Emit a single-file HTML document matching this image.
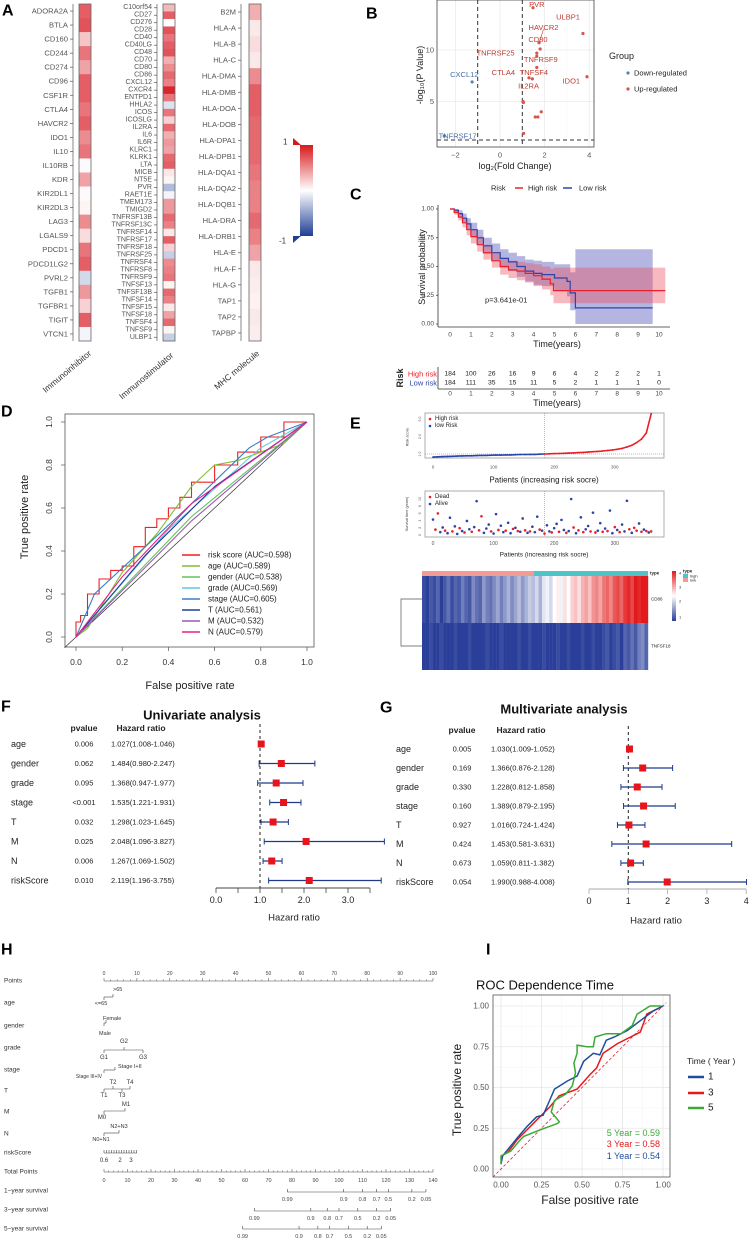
<!DOCTYPE html>
<html><head><meta charset="utf-8"><title>Figure</title>
<style>
html,body{margin:0;padding:0;background:#fff;}
svg{display:block;font-family:"Liberation Sans",Arial,sans-serif;}
text{dominant-baseline:central;}
</style></head>
<body>
<svg id="fig" width="749" height="1241" viewBox="0 0 749 1241" xmlns="http://www.w3.org/2000/svg">
<defs>
<linearGradient id="gradA" x1="0" y1="0" x2="0" y2="1">
<stop offset="0" stop-color="#d7191c"/><stop offset="0.5" stop-color="#ffffff"/><stop offset="1" stop-color="#1f3f95"/>
</linearGradient>
<linearGradient id="gradE" x1="0" y1="0" x2="0" y2="1">
<stop offset="0" stop-color="#e31a1c"/><stop offset="0.5" stop-color="#ffffff"/><stop offset="1" stop-color="#2a3f9a"/>
</linearGradient>
</defs>
</svg>
<script>
// ---------- DATA ----------
// Panel A
const aCol1Names=['ADORA2A','BTLA','CD160','CD244','CD274','CD96','CSF1R','CTLA4','HAVCR2','IDO1','IL10','IL10RB','KDR','KIR2DL1','KIR2DL3','LAG3','LGALS9','PDCD1','PDCD1LG2','PVRL2','TGFB1','TGFBR1','TIGIT','VTCN1'];
const aCol1Vals=[0.7,0.75,0.25,0.6,0.4,0.7,0.7,0.6,0.7,0.5,0.6,-0.02,0.4,0.02,0.05,0.5,0.15,0.6,0.7,-0.2,0.45,0.2,0.7,-0.05];
const aCol2Names=['C10orf54','CD27','CD276','CD28','CD40','CD40LG','CD48','CD70','CD80','CD86','CXCL12','CXCR4','ENTPD1','HHLA2','ICOS','ICOSLG','IL2RA','IL6','IL6R','KLRC1','KLRK1','LTA','MICB','NT5E','PVR','RAET1E','TMEM173','TMIGD2','TNFRSF13B','TNFRSF13C','TNFRSF14','TNFRSF17','TNFRSF18','TNFRSF25','TNFRSF4','TNFRSF8','TNFRSF9','TNFSF13','TNFSF13B','TNFSF14','TNFSF15','TNFSF18','TNFSF4','TNFSF9','ULBP1'];
const aCol2Vals=[0.3,0.7,0.0,0.75,0.6,0.7,0.75,0.35,0.5,0.65,0.55,0.95,0.6,-0.15,0.6,0.2,0.65,0.35,0.45,0.4,0.65,0.7,0.1,0.05,-0.35,-0.05,0.45,0.45,0.65,0.55,0.1,0.7,0.2,-0.25,0.5,0.55,0.6,0.05,0.65,0.55,0.1,0.4,0.65,0.05,-0.25];
const aCol3Names=['B2M','HLA-A','HLA-B','HLA-C','HLA-DMA','HLA-DMB','HLA-DOA','HLA-DOB','HLA-DPA1','HLA-DPB1','HLA-DQA1','HLA-DQA2','HLA-DQB1','HLA-DRA','HLA-DRB1','HLA-E','HLA-F','HLA-G','TAP1','TAP2','TAPBP'];
const aCol3Vals=[0.35,0.1,0.15,0.1,0.5,0.7,0.7,0.65,0.65,0.65,0.6,0.55,0.55,0.65,0.55,0.4,0.1,0.08,0.06,0.1,0.08];
// Panel B
const bFC=[1.48,3.72,1.75,1.8,1.65,1.65,1.65,1.3,1.45,3.9,1.03,1.05,1.58,1.7,1.85,1.06,-1.25,-2.5];
const bLogP=[14.1,11.6,10.7,10.1,9.7,9.4,8.3,7.3,7.2,7.4,5.0,4.9,3.5,3.5,4.0,1.9,6.9,1.65];
const bUp=[1,1,1,1,1,1,1,1,1,1,1,1,1,1,1,1,0,0];
const bLabels=['PVR','ULBP1','HAVCR2','CD80','TNFRSF25','TNFRSF9','TNFSF4','CTLA4','IL2RA','IDO1','CXCL12','TNFRSF17'];
const bLabelFC=[1.65,3.05,1.95,1.7,-0.2,1.83,1.52,0.15,1.28,3.2,-1.6,-1.9];
const bLabelP=[14.4,13.2,12.2,11.0,9.7,9.1,7.8,7.8,6.5,7.0,7.6,1.65];
// Panel C
const hrT=[0,0.2,0.4,0.6,0.8,1.0,1.3,1.6,2.0,2.4,2.8,3.2,3.6,4.0,4.4,4.8,4.95,10.3];
const hrS=[1,0.97,0.93,0.88,0.82,0.76,0.69,0.62,0.55,0.5,0.47,0.46,0.44,0.42,0.39,0.35,0.29,0.29];
const hrLo=[1,0.95,0.9,0.84,0.77,0.7,0.63,0.56,0.49,0.43,0.4,0.38,0.36,0.33,0.3,0.25,0.18,0.18];
const hrHi=[1,0.99,0.96,0.92,0.87,0.82,0.76,0.69,0.62,0.57,0.55,0.54,0.53,0.52,0.5,0.48,0.49,0.49];
const lrT=[0,0.2,0.4,0.6,0.8,1.0,1.3,1.6,2.0,2.4,2.8,3.2,3.6,4.0,4.4,5.0,5.6,5.75,6.0,9.7];
const lrS=[1,0.99,0.96,0.92,0.87,0.82,0.75,0.68,0.62,0.57,0.54,0.5,0.46,0.44,0.43,0.4,0.37,0.27,0.14,0.14];
const lrLo=[1,0.97,0.93,0.88,0.82,0.76,0.69,0.61,0.55,0.49,0.46,0.41,0.37,0.34,0.33,0.29,0.24,0.12,0.0,0.0];
const lrHi=[1,1,0.99,0.96,0.92,0.88,0.82,0.75,0.70,0.65,0.62,0.59,0.56,0.55,0.54,0.52,0.52,0.45,0.65,0.65];
const riskHigh=[184,100,26,16,9,6,4,2,2,2,1];
const riskLow=[184,111,35,15,11,5,2,1,1,1,0];
const cYTicks=[0,0.25,0.5,0.75,1];
// Panel D
const dNames=['risk score','age','gender','grade','stage','T','M','N'];
const dAUC=['0.598','0.589','0.538','0.569','0.605','0.561','0.532','0.579'];
const dColors=['#ee2024','#7cbf3a','#63c25e','#5fcbdc','#3b7fc4','#1f3b9a','#9b59b6','#e6208a'];
const dFpr=[
 [0,0.02,0.05,0.1,0.15,0.2,0.25,0.3,0.35,0.4,0.45,0.5,0.6,0.7,0.8,0.9,1],
 [0,0.05,0.2,0.35,0.5,0.6,0.7,0.9,1],
 [0,0.5,1],
 [0,0.4,0.8,1],
 [0,0.08,0.3,0.5,0.75,0.83,1],
 [0,0.3,0.6,1],
 [0,0.5,1],
 [0,0.2,0.5,1]];
const dTpr=[
 [0,0.07,0.1,0.2,0.27,0.31,0.33,0.42,0.51,0.55,0.6,0.65,0.72,0.8,0.86,0.93,1],
 [0,0.04,0.3,0.48,0.7,0.8,0.82,0.9,1],
 [0,0.56,1],
 [0,0.5,0.88,1],
 [0,0.2,0.42,0.62,0.88,0.93,1],
 [0,0.38,0.7,1],
 [0,0.54,1],
 [0,0.28,0.62,1]];
const dTicks=[0,0.2,0.4,0.6,0.8,1.0];
// Panel E
const eRisk=[0.82,0.84,0.85,0.86,0.87,0.88,0.89,0.9,0.9,0.91,0.92,0.92,0.93,0.94,0.94,0.95,0.95,0.96,0.97,0.97,0.98,0.98,0.99,1.0,1.01,1.02,1.03,1.04,1.05,1.06,1.08,1.09,1.11,1.13,1.15,1.17,1.2,1.23,1.27,1.32,1.4,1.5,1.65,1.85,2.2,3.3];
const eTimes=[4.3,1.5,6,0.8,2.1,1.2,0.5,4.8,1.0,2.4,0.3,1.9,1.1,0.7,3.9,1.6,0.9,2.2,9.4,1.3,5.2,0.6,1.8,2.9,1.0,0.4,5.8,1.4,2.6,0.8,1.2,3.4,0.5,1.7,2.0,1.1,0.9,4.6,1.3,0.6,1.0,2.3,0.8,5.1,1.5,1.2,0.4,2.7,1.0,0.7,1.9,3.1,0.9,4.2,1.4,0.6,1.1,10.0,2.1,0.5,1.3,4.9,0.8,1.6,2.5,1.0,6.2,0.7,1.2,3.3,0.9,1.8,1.1,6.8,0.5,2.2,1.4,0.8,2.9,1.0,9.5,1.6,0.6,2.0,1.2,3.2,0.9,1.5,1.1,0.7,1.0];
const eDead=[0,1,1,0,0,1,0,0,1,0,0,1,0,1,0,0,1,0,0,1,1,0,0,0,1,0,0,1,0,0,1,0,0,1,0,1,0,0,1,0,1,0,0,0,1,0,1,0,0,1,0,0,1,0,0,1,0,0,1,0,1,0,1,0,0,1,0,1,0,0,1,0,1,0,0,1,0,1,0,0,0,1,0,1,1,0,1,0,1,0,1];
const eCD86=[1.1,1.0,1.2,1.1,1.3,1.0,1.2,1.4,1.1,1.3,1.2,1.5,1.3,1.2,1.6,1.4,1.3,1.7,1.5,1.4,1.6,1.8,1.5,1.7,1.9,1.6,1.8,2.0,1.7,1.9,2.1,2.0,2.2,1.9,2.3,2.4,2.2,2.5,2.6,2.4,2.7,2.5,2.8,2.9,2.7,3.0,3.1,2.9,3.2,3.3,3.1,3.4,3.5,3.3,3.6,3.7,3.5,3.8,3.9,3.7,4.0,3.9,4.0,4.1];
const eTNFSF18=[1.0,1.0,1.1,1.0,1.0,1.1,1.0,1.0,1.0,1.1,1.0,1.0,1.0,1.1,1.0,1.0,1.0,1.0,1.1,1.0,1.0,1.0,1.1,1.0,1.0,1.0,1.0,1.1,1.0,1.0,1.1,1.0,1.0,1.0,1.1,1.0,1.0,1.0,1.1,1.0,1.0,1.1,1.0,1.0,1.0,1.1,1.0,1.0,1.1,1.0,1.0,1.1,1.2,1.0,1.1,1.2,1.0,1.3,1.2,1.4,1.2,1.5,1.6,1.3];
// Panel F / G
const fgNames=['age','gender','grade','stage','T','M','N','riskScore'];
const fP=['0.006','0.062','0.095','<0.001','0.032','0.025','0.006','0.010'];
const fHR=[1.027,1.484,1.368,1.535,1.298,2.048,1.267,2.119];
const fLo=[1.008,0.980,0.947,1.221,1.023,1.096,1.069,1.196];
const fHi=[1.046,2.247,1.977,1.931,1.645,3.827,1.502,3.755];
const gP=['0.005','0.169','0.330','0.160','0.927','0.424','0.673','0.054'];
const gHR=[1.030,1.366,1.228,1.389,1.016,1.453,1.059,1.990];
const gLo=[1.009,0.876,0.812,0.879,0.724,0.581,0.811,0.988];
const gHi=[1.052,2.128,1.858,2.195,1.424,3.631,1.382,4.008];
// Panel H
const hSurvLabels=['0.99','0.9','0.8','0.7','0.5','0.2','0.05'];
const hSurv1=[78,102,110,116,121,131,137];
const hSurv3=[64,88,95,100,108,116,122];
const hSurv5=[59,83,91,96,104,112,118];
// Panel I
const iG_f=[0,0,0.06,0.12,0.14,0.24,0.35,0.36,0.31,0.33,0.40,0.44,0.46,0.45,0.47,0.47,0.53,0.57,0.58,0.65,0.74,0.81,0.84,0.92,0.99];
const iG_t=[0.03,0.08,0.11,0.18,0.2,0.24,0.28,0.29,0.35,0.42,0.46,0.51,0.59,0.65,0.71,0.76,0.75,0.75,0.81,0.83,0.83,0.88,0.95,1.0,1.0];
const iB_f=[0,0.01,0.1,0.16,0.22,0.26,0.3,0.33,0.41,0.47,0.51,0.57,0.61,0.65,0.7,0.78,0.86,0.94,1];
const iB_t=[0.03,0.08,0.19,0.26,0.32,0.33,0.42,0.49,0.54,0.57,0.66,0.71,0.70,0.79,0.81,0.85,0.91,0.97,1.0];
const iR_f=[0,0.04,0.1,0.18,0.24,0.3,0.36,0.47,0.55,0.59,0.63,0.72,0.8,0.86,0.9,0.96,1];
const iR_t=[0.08,0.10,0.18,0.26,0.32,0.38,0.45,0.49,0.58,0.62,0.71,0.77,0.81,0.84,0.95,0.98,1];
const iTicks=[0,0.25,0.5,0.75,1];
const iAUC=['0.54','0.58','0.59'];

// ---------- HELPERS ----------
const NS='http://www.w3.org/2000/svg';
const svg=document.getElementById('fig');
function mk(tag,a,p){const e=document.createElementNS(NS,tag);for(const k in a)e.setAttribute(k,a[k]);(p||svg).appendChild(e);return e;}
function tx(x,y,s,fs,name,o){o=o||{};
const e=mk('text',{x:x,y:y,'font-size':fs,'text-anchor':o.a||'start',fill:o.c||'#222','font-weight':o.w||'normal'});
if(o.r!=null)e.setAttribute('transform','rotate('+o.r+' '+x+' '+y+')');
if(o.st)e.setAttribute('font-style',o.st);
e.textContent=s;


return e;}
function ln(x1,y1,x2,y2,c,w,name,dash){
const e=mk('line',{x1:x1,y1:y1,x2:x2,y2:y2,stroke:c,'stroke-width':w});
if(dash)e.setAttribute('stroke-dasharray',dash);


return e;}
function poly(pts,c,w,name){
const e=mk('polyline',{points:pts.map(p=>p[0].toFixed(1)+','+p[1].toFixed(1)).join(' '),fill:'none',stroke:c,'stroke-width':w});


return e;}
function rc(x,y,w,h,f,name,s){
const e=mk('rect',{x:x,y:y,width:w,height:h,fill:f});
if(s){e.setAttribute('stroke',s);e.setAttribute('stroke-width',0.8);}


return e;}
function heatA(v){const t=Math.min(1,Math.abs(v));
if(v>=0)return 'rgb('+Math.round(255-40*t)+','+Math.round(255-230*t)+','+Math.round(255-220*t)+')';
return 'rgb('+Math.round(255-224*t)+','+Math.round(255-192*t)+','+Math.round(255-106*t)+')';}
function heatE(v){const t=(v-2.5)/1.5;const a=Math.min(1,Math.abs(t));
if(t>=0)return 'rgb('+Math.round(255-28*a)+','+Math.round(255-229*a)+','+Math.round(255-227*a)+')';
return 'rgb('+Math.round(255-213*a)+','+Math.round(255-192*a)+','+Math.round(255-101*a)+')';}

// ---------- PANEL LABELS ----------
[['A',2,11],['B',366,14],['C',350,195],['D',1,412],['E',350,424],['F',1,707],['G',380,708],['H',1,950],['I',486,950]].forEach(l=>{
tx(l[1],l[2],l[0],16,'panel-label-'+l[0].toLowerCase(),{w:'bold',c:'#000'});});

// ---------- PANEL A ----------
function heatCol(names,vals,x0,lx,fs,key){
const top=4,bot=341,h=(bot-top)/names.length;
names.forEach((n,i)=>{
 const r=rc(x0,top+i*h,12,h+0.3,heatA(vals[i]),key+'-cell-'+n);
 tx(lx,top+(i+0.5)*h,n,fs,key+'-label-'+n,{a:'end',c:'#555'});
 ln(lx+2,top+(i+0.5)*h,lx+5,top+(i+0.5)*h,'#555',0.7,key+'-tick');
});
ln(lx+5,top,lx+5,bot,'#555',0.7,key+'-axis');
rc(x0,top,12,bot-top,'none',key+'-border','#666');
}
heatCol(aCol1Names,aCol1Vals,79,68,7.6,'immunoinhibitor');
heatCol(aCol2Names,aCol2Vals,163,152,7,'immunostimulator');
heatCol(aCol3Names,aCol3Vals,249,236,7.6,'mhc');
tx(90,352,'Immunoinhibitor',8.5,'immunoinhibitor-title',{a:'end',r:-40,c:'#333'});
tx(172,354,'Immunostimulator',8.5,'immunostimulator-title',{a:'end',r:-40,c:'#333'});
tx(258,352,'MHC molecule',8.5,'mhc-title',{a:'end',r:-40,c:'#333'});
rc(300,145,13,91,'url(#gradA)','colorbar-a');
{const t=mk('polygon',{points:'293,138 301,145 293,145',fill:'#d7191c'});


const b=mk('polygon',{points:'293,236 301,236 293,243',fill:'#1f3f95'});

}
tx(283,142,'1',8,'colorbar-max-label',{c:'#333'});
tx(279,241,'-1',8,'colorbar-min-label',{c:'#333'});

// ---------- PANEL B ----------
const bX=v=>500+v*22.3, bY=v=>153-v*10.3;
[-2,0,2,4].forEach(v=>ln(bX(v),0,bX(v),147,'#ebebeb',0.8,'b-grid-x'));
[-1,1,3].forEach(v=>ln(bX(v),0,bX(v),147,'#f4f4f4',0.5,'b-grid-x-minor'));
[5,10].forEach(v=>ln(437,bY(v),594,bY(v),'#ebebeb',0.8,'b-grid-y'));
rc(437,0,157,147,'none','volcano-plot-area','#444');
ln(bX(-1),0,bX(-1),147,'#333',1,'fc-threshold-low','4,3');
ln(bX(1),0,bX(1),147,'#333',1,'fc-threshold-high','4,3');
ln(437,140,594,140,'#333',1,'p-threshold','4,3');
bFC.forEach((v,i)=>{const c=mk('circle',{cx:bX(v),cy:bY(bLogP[i]),r:1.6,fill:bUp[i]?'#d9534f':'#5b7fb5'});

});
bLabels.forEach((s,i)=>tx(bX(bLabelFC[i]),bY(bLabelP[i]),s,7.5,'gene-label-'+s,{a:'middle',c:i<10?'#c0392b':'#4a6fa5'}));
ln(bX(1.75),bY(10.7),bX(1.95),bY(12.0),'#c0392b',0.6,'havcr2-leader');
[-2,0,2,4].forEach(v=>tx(bX(v),155,(v<0?'−':'')+Math.abs(v),7.5,'b-x-tick',{a:'middle',c:'#555'}));
[5,10].forEach(v=>tx(434,bY(v),String(v),7.5,'b-y-tick',{a:'end',c:'#555'}));
tx(515,166,'log₂(Fold Change)',9,'b-x-axis-title',{a:'middle',c:'#222'});
tx(420,75,'-log₁₀(P Value)',9,'b-y-axis-title',{a:'middle',r:-90,c:'#222'});
tx(609,56,'Group',9,'b-legend-title',{c:'#222'});
[['Down-regulated','#5b7fb5',73],['Up-regulated','#d9534f',89]].forEach(g=>{
const c=mk('circle',{cx:628,cy:g[2],r:1.6,fill:g[1]});


tx(634,g[2],g[0],7.5,'b-legend-entry',{c:'#222'});});

// ---------- PANEL C ----------
const cX=t=>450+t*20.9, cY=s=>324-s*115;
tx(491,188,'Risk',7.5,'c-legend-title');
ln(515,188,523,188,'#e8202a',1.5,'c-legend-high-key');
tx(528,188,'High risk',7.5,'c-legend-high');
ln(563,188,572,188,'#2b44a8',1.5,'c-legend-low-key');
tx(579,188,'Low risk',7.5,'c-legend-low');
function band(T,lo,hi,fill,name){
let pts=[];for(let i=0;i<T.length;i++){const t2=i<T.length-1?T[i+1]:T[i];pts.push([cX(T[i]),cY(hi[i])],[cX(t2),cY(hi[i])]);}
for(let i=T.length-1;i>=0;i--){const t2=i<T.length-1?T[i+1]:T[i];pts.push([cX(t2),cY(lo[i])],[cX(T[i]),cY(lo[i])]);}
const e=mk('polygon',{points:pts.map(p=>p[0].toFixed(1)+','+p[1].toFixed(1)).join(' '),fill:fill});

}
function steps(T,S){const p=[];for(let i=0;i<T.length;i++){if(i>0)p.push([cX(T[i]),cY(S[i-1])]);p.push([cX(T[i]),cY(S[i])]);}return p;}
band(lrT,lrLo,lrHi,'rgba(90,90,190,0.45)','low-risk-ci');
band(hrT,hrLo,hrHi,'rgba(235,80,95,0.4)','high-risk-ci');
poly(steps(lrT,lrS),'#2b44a8',1.2,'low-risk-curve');
poly(steps(hrT,hrS),'#e8202a',1.2,'high-risk-curve');
ln(438,205,438,327,'#333',0.8,'c-y-axis');
ln(438,327,670,327,'#333',0.8,'c-x-axis');
cYTicks.forEach(v=>{tx(434,cY(v),v.toFixed(2),6.5,'c-y-tick',{a:'end',c:'#444'});ln(436,cY(v),438,cY(v),'#333',0.7,'c-y-tickmark');});
for(let t=0;t<=10;t++)tx(cX(t),335,String(t),6.5,'c-x-tick',{a:'middle',c:'#444'});
tx(422,267,'Survival probability',9,'c-y-axis-title',{a:'middle',r:-90});
tx(485,300,'p=3.641e-01',7.5,'c-pvalue');
tx(557,344,'Time(years)',9,'c-x-axis-title',{a:'middle'});
tx(400,378,'Risk',9,'risk-table-title',{a:'middle',r:-90,w:'bold'});
tx(437,374,'High risk',7.5,'risk-table-high-label',{a:'end',c:'#e8202a'});
tx(437,383,'Low risk',7.5,'risk-table-low-label',{a:'end',c:'#2b44a8'});
riskHigh.forEach((n,i)=>tx(cX(i),374,String(n),6.8,'risk-table-high-count',{a:'middle'}));
riskLow.forEach((n,i)=>tx(cX(i),383,String(n),6.8,'risk-table-low-count',{a:'middle'}));
ln(438,367,438,389,'#333',0.8,'risk-table-y-axis');
ln(438,389,670,389,'#333',0.8,'risk-table-x-axis');
for(let t=0;t<=10;t++)tx(cX(t),394,String(t),6.5,'risk-table-x-tick',{a:'middle',c:'#444'});
tx(557,403,'Time(years)',9,'risk-table-x-title',{a:'middle'});

// ---------- PANEL D ----------
const dX=v=>76+v*231, dY=v=>637-v*215;
rc(65,414,249,233,'none','roc-plot-area','#555');
ln(dX(-0.05),dY(-0.05),dX(1.0),dY(1.0),'#333',0.7,'roc-diagonal');
dNames.forEach((n,k)=>{
let pts=[];
if(k===0){for(let i=0;i<dFpr[0].length;i++){if(i>0)pts.push([dX(dFpr[0][i-1]),dY(dTpr[0][i])]);pts.push([dX(dFpr[0][i]),dY(dTpr[0][i])]);}}
else pts=dFpr[k].map((f,i)=>[dX(f),dY(dTpr[k][i])]);
poly(pts,dColors[k],1.1,'roc-curve-'+n.replace(' ','-'));
const y=555+k*11;
ln(182,y,200,y,dColors[k],1.5,'roc-legend-key');
tx(208,y,n+' (AUC='+dAUC[k]+')',8,'roc-legend-entry',{c:'#222'});
});
dTicks.forEach(v=>{
tx(dX(v),662,v.toFixed(1),8.5,'d-x-tick',{a:'middle',c:'#333'});
ln(dX(v),647,dX(v),651,'#555',0.7,'d-x-tickmark');
tx(49,dY(v),v.toFixed(1),8.5,'d-y-tick',{a:'middle',r:-90,c:'#333'});
ln(61,dY(v),65,dY(v),'#555',0.7,'d-y-tickmark');
});
tx(190,686,'False positive rate',11,'d-x-axis-title',{a:'middle'});
tx(25,517,'True positive rate',11,'d-y-axis-title',{a:'middle',r:-90});

// ---------- PANEL E ----------
const eX=i=>433+i*0.606, eY=v=>454-(v-1)*17.5, eY2=v=>535-v*3.6;
rc(425,413,239,45,'none','risk-score-plot-area','#999');
ln(eX(184),413,eX(184),458,'#777',0.5,'risk-cutoff-line','1,1');
ln(425,454,664,454,'#777',0.5,'risk-median-line','1,1');
poly(eRisk.map((v,i)=>[eX(i*8),eY(v)]).slice(0,24),'#2b44a8',1.6,'low-risk-score-line');
poly(eRisk.map((v,i)=>[eX(i*8),eY(v)]).slice(23),'#e8202a',1.6,'high-risk-score-line');
eRisk.forEach((v,i)=>{const c=mk('circle',{cx:eX(i*8),cy:eY(v),r:0.9,fill:i*8<184?'#2b44a8':'#e8202a'});

});
[1,2,3].forEach(v=>tx(420,eY(v),v.toFixed(1),3.5,'e1-y-tick',{a:'middle',r:-90,c:'#555'}));
tx(407,437,'Risk score',4,'e1-y-title',{a:'middle',r:-90,c:'#444'});
[0,100,200,300].forEach(v=>{tx(eX(v),467,String(v),4.5,'e1-x-tick',{a:'middle',c:'#555'});
tx(eX(v),544,String(v),5,'e2-x-tick',{a:'middle',c:'#555'});});
{const c=mk('circle',{cx:430,cy:419,r:1.3,fill:'#e8202a'});
const c2=mk('circle',{cx:430,cy:426,r:1.3,fill:'#2b44a8'});}
tx(435,419,'High risk',6,'e1-legend-high');
tx(435,426,'low Risk',6,'e1-legend-low');
tx(544,480,'Patients (increasing risk socre)',8,'e1-x-title',{a:'middle'});
rc(425,491,239,46,'none','survival-time-plot-area','#999');
ln(eX(184),491,eX(184),537,'#777',0.5,'survival-cutoff-line','1,1');
eTimes.forEach((v,i)=>{const c=mk('circle',{cx:eX(i*4),cy:eY2(v),r:1.3,fill:eDead[i]?'#e8202a':'#2b44a8'});

});
[0,2,4,6,8,10].forEach(v=>tx(420,eY2(v),String(v),3.5,'e2-y-tick',{a:'middle',r:-90,c:'#555'}));
tx(407,514,'Survival time (years)',3.8,'e2-y-title',{a:'middle',r:-90,c:'#444'});
{const c=mk('circle',{cx:430,cy:497,r:1.3,fill:'#e8202a'});
const c2=mk('circle',{cx:430,cy:504,r:1.3,fill:'#2b44a8'});}
tx(435,497,'Dead',6,'e2-legend-dead');
tx(435,504,'Alive',6,'e2-legend-alive');
tx(544,555,'Patients (increasing risk socre)',6.5,'e2-x-title',{a:'middle'});
rc(422,571,112,5,'#f29a93','type-bar-low');
rc(534,571,114,5,'#4fc3c8','type-bar-high');
const ew=226/eCD86.length;
eCD86.forEach((v,i)=>rc(422+i*ew,576,ew+0.2,47,heatE(v),'cd86-cell'));
eTNFSF18.forEach((v,i)=>rc(422+i*ew,623,ew+0.2,47,heatE(v),'tnfsf18-cell'));
tx(650,573,'type',4.5,'heatmap-type-label',{w:'bold'});
tx(651,599,'CD86',4.5,'heatmap-row-label-cd86');
tx(651,646,'TNFSF18',4.5,'heatmap-row-label-tnfsf18');
poly([[422,599],[401,599],[401,646],[422,646]],'#555',0.7,'heatmap-dendrogram');
rc(672,571,4,50,'url(#gradE)','heatmap-colorbar');
[['4',573],['3',587],['2',601],['1',617]].forEach(s=>tx(679,s[1],s[0],4,'heatmap-colorbar-tick',{c:'#333'}));
tx(683,571,'type',4.5,'heatmap-type-legend-title',{w:'bold'});
rc(683,574,5,4,'#4fc3c8','type-legend-high-key');
rc(683,578,5,4,'#f29a93','type-legend-low-key');
tx(690,576,'high',4,'type-legend-high');
tx(690,580,'low',4,'type-legend-low');

// ---------- PANEL F / G ----------
function forest(o){
tx(o.tx,o.ty,o.title,13,o.key+'-title',{a:'middle',w:'bold',c:'#111'});
tx(o.pX,o.hy,'pvalue',8.5,o.key+'-pvalue-header',{a:'middle',w:'bold'});
tx(o.hrX+30,o.hy,'Hazard ratio',8.5,o.key+'-hr-header',{a:'middle',w:'bold'});
ln(o.X(1),o.hy-4,o.X(1),o.axY,'#222',1,o.key+'-reference-line','3,3');
fgNames.forEach((n,i)=>{const y=o.y0+i*o.dy;
tx(o.nX,y,n,9,o.key+'-row-name');
tx(o.pX,y,o.P[i],7.5,o.key+'-row-pvalue',{a:'middle'});
tx(o.hrX,y,o.HR[i].toFixed(3)+'('+o.Lo[i].toFixed(3)+'-'+o.Hi[i].toFixed(3)+')',7.5,o.key+'-row-hr');
ln(o.X(o.Lo[i]),y,o.X(o.Hi[i]),y,'#1f3a8a',1.3,o.key+'-ci-'+n);
ln(o.X(o.Lo[i]),y-3,o.X(o.Lo[i]),y+3,'#1f3a8a',1,o.key+'-ci-cap');
ln(o.X(o.Hi[i]),y-3,o.X(o.Hi[i]),y+3,'#1f3a8a',1,o.key+'-ci-cap');
rc(o.X(o.HR[i])-3.5,y-3.5,7,7,'#e8141c',o.key+'-point-'+n);
});
ln(o.X(0),o.axY,o.X(o.axMax),o.axY,o.axC,1,o.key+'-x-axis');
o.ticks.forEach((t,i)=>{ln(o.X(t),o.axY,o.X(t),o.axY+5,o.axC,0.8,o.key+'-x-tickmark');
if(o.tl[i])tx(o.X(t),o.axY+12,o.tl[i],9,o.key+'-x-tick',{a:'middle'});});
tx(o.htX,o.htY,'Hazard ratio',9.5,o.key+'-x-title',{a:'middle'});
}
forest({key:'univariate',title:'Univariate analysis',tx:202,ty:715,pX:84,hy:728,hrX:111,nX:11,y0:744,dy:19.5,
P:fP,HR:fHR,Lo:fLo,Hi:fHi,X:v=>216+v*44,axY:888,axMax:3.5,axC:'#444',
ticks:[0,0.5,1,1.5,2,2.5,3,3.5],tl:['0.0','','1.0','','2.0','','3.0',''],htX:294,htY:918});
forest({key:'multivariate',title:'Multivariate analysis',tx:564,ty:709,pX:462,hy:730,hrX:491,nX:396,y0:749,dy:19,
P:gP,HR:gHR,Lo:gLo,Hi:gHi,X:v=>589+v*39.3,axY:889,axMax:4,axC:'#aaa',
ticks:[0,1,2,3,4],tl:['0','1','2','3','4'],htX:656,htY:921});

// ---------- PANEL H (nomogram) ----------
const hP=p=>104+p*3.29, hT=t=>104+t*2.35;
const rowNames=[['Points',981],['age',1003],['gender',1026],['grade',1048],['stage',1070],['T',1091],['M',1112],['N',1134],['riskScore',1153],['Total Points',1172],['1−year survival',1191],['3−year survival',1210],['5−year survival',1229]];
rowNames.forEach(r=>tx(4,r[1],r[0],6.5,'nomogram-row-'+r[0].toLowerCase().replace(/\s|−/g,'-'),{c:'#333'}));
ln(hP(0),981,hP(100),981,'#444',0.6,'points-scale');
for(let p=0;p<=100;p+=2)ln(hP(p),981,hP(p),p%10===0?978:979.5,'#444',0.5,'points-tick');
for(let p=0;p<=100;p+=10)tx(hP(p),974,String(p),5,'points-label',{a:'middle',c:'#444'});
function seg(x1,x2,y,name){ln(x1,y,x2,y,'#444',0.6,name);}
function tk(x,y,up,name){ln(x,y,x,y+(up?-3:3),'#444',0.6,name);}
seg(104,113,997,'age-scale');tk(104,997,false,'age-tick');tk(113,997,true,'age-tick');
tx(113,990,'>65',5.5,'age-level-gt65',{c:'#333'});tx(101,1004,'<=65',5.5,'age-level-le65',{a:'middle',c:'#333'});
seg(104,106,1023,'gender-scale');tk(104,1023,false,'gender-tick');tk(106,1023,true,'gender-tick');
tx(103,1019,'Female',5.5,'gender-level-female',{c:'#333'});tx(99,1034,'Male',5.5,'gender-level-male',{c:'#333'});
seg(104,143,1050,'grade-scale');tk(104,1050,false,'grade-tick');tk(124,1050,true,'grade-tick');tk(143,1050,false,'grade-tick');
tx(124,1042,'G2',6,'grade-level-g2',{a:'middle',c:'#333'});tx(104,1058,'G1',6,'grade-level-g1',{a:'middle',c:'#333'});tx(143,1058,'G3',6,'grade-level-g3',{a:'middle',c:'#333'});
seg(104,115,1070,'stage-scale');tk(104,1070,false,'stage-tick');tk(115,1070,true,'stage-tick');
tx(118,1067,'Stage  I+II',5.5,'stage-level-early',{c:'#333'});tx(89,1077,'Stage III+IV',5,'stage-level-late',{a:'middle',c:'#333'});
seg(104,130,1089,'t-scale');[[104,0],[113,1],[122,0],[130,1]].forEach(t=>tk(t[0],1089,t[1],'t-tick'));
tx(113,1083,'T2',6,'t-level-t2',{a:'middle',c:'#333'});tx(130,1083,'T4',6,'t-level-t4',{a:'middle',c:'#333'});
tx(104,1096,'T1',6,'t-level-t1',{a:'middle',c:'#333'});tx(122,1096,'T3',6,'t-level-t3',{a:'middle',c:'#333'});
seg(104,125,1111,'m-scale');tk(104,1111,false,'m-tick');tk(125,1111,true,'m-tick');
tx(126,1105,'M1',6,'m-level-m1',{a:'middle',c:'#333'});tx(102,1118,'M0',6,'m-level-m0',{a:'middle',c:'#333'});
seg(104,119,1133,'n-scale');tk(104,1133,false,'n-tick');tk(119,1133,true,'n-tick');
tx(119,1127,'N2+N3',5.5,'n-level-high',{a:'middle',c:'#333'});tx(101,1140,'N0+N1',5.5,'n-level-low',{a:'middle',c:'#333'});
seg(104,137,1153,'riskscore-scale');for(let x=104;x<=137;x+=2.5)tk(x,1153,true,'riskscore-tick');
[['0.6',104],['2',120],['3',131]].forEach(s=>tx(s[1],1161,s[0],6,'riskscore-label',{a:'middle',c:'#333'}));
ln(hT(0),1172,hT(140),1172,'#444',0.6,'total-points-scale');
for(let t=0;t<=140;t+=2)ln(hT(t),1172,hT(t),t%10===0?1169:1170.5,'#444',0.5,'total-points-tick');
for(let t=0;t<=140;t+=10)tx(hT(t),1181,String(t),5.5,'total-points-label',{a:'middle',c:'#444'});
[[hSurv1,1192,'1-year'],[hSurv3,1211,'3-year'],[hSurv5,1229,'5-year']].forEach(s=>{
ln(hT(s[0][0]),s[1],hT(s[0][6]),s[1],'#444',0.6,s[2]+'-survival-scale');
s[0].forEach((t,i)=>{tk(hT(t),s[1],true,s[2]+'-survival-tick');
tx(hT(t),s[1]+8,hSurvLabels[i],5.5,s[2]+'-survival-label',{a:'middle',c:'#444'});});});

// ---------- PANEL I ----------
const iX=v=>501+v*162, iY=v=>1169-v*163;
tx(545,985,'ROC Dependence Time',13,'i-title',{a:'middle',c:'#111'});
rc(493,995,177,182,'#fff','i-plot-area');
[0.125,0.375,0.625,0.875].forEach(v=>{ln(iX(v),995,iX(v),1177,'#f3f3f3',0.5,'i-grid-minor');ln(493,iY(v),670,iY(v),'#f3f3f3',0.5,'i-grid-minor');});
iTicks.forEach(v=>{ln(iX(v),995,iX(v),1177,'#e6e6e6',0.8,'i-grid-x');ln(493,iY(v),670,iY(v),'#e6e6e6',0.8,'i-grid-y');});
ln(iX(-0.05),iY(-0.05),iX(1.02),iY(1.02),'#e8202a',0.8,'i-diagonal','3,2');
poly(iR_f.map((f,i)=>[iX(f),iY(iR_t[i])]),'#e31a1c',1.5,'roc-3-year');
poly(iB_f.map((f,i)=>[iX(f),iY(iB_t[i])]),'#1f4e9a',1.5,'roc-1-year');
poly(iG_f.map((f,i)=>[iX(f),iY(iG_t[i])]),'#3aa935',1.5,'roc-5-year');
rc(493,995,177,182,'none','i-plot-border','#555');
iTicks.forEach(v=>{tx(iX(v),1185,v.toFixed(2),8,'i-x-tick',{a:'middle',c:'#555'});
tx(489,iY(v),v.toFixed(2),8,'i-y-tick',{a:'end',c:'#555'});});
tx(590,1200,'False positive rate',12,'i-x-axis-title',{a:'middle'});
tx(457,1090,'True positive rate',12,'i-y-axis-title',{a:'middle',r:-90});
tx(660,1133,'5 Year  =  '+iAUC[2],9,'auc-5-year',{a:'end',c:'#3aa935'});
tx(660,1144,'3 Year  =  '+iAUC[1],9,'auc-3-year',{a:'end',c:'#e31a1c'});
tx(660,1156,'1 Year  =  '+iAUC[0],9,'auc-1-year',{a:'end',c:'#1f4e9a'});
tx(687,1061,'Time ( Year )',8.5,'i-legend-title');
[['1','#1f4e9a',1077],['3','#e31a1c',1093],['5','#3aa935',1108]].forEach(l=>{
ln(688,l[2],704,l[2],l[1],2.5,'i-legend-key-'+l[0]);
tx(708,l[2],l[0],10,'i-legend-entry-'+l[0]);});
</script>
</body></html>
